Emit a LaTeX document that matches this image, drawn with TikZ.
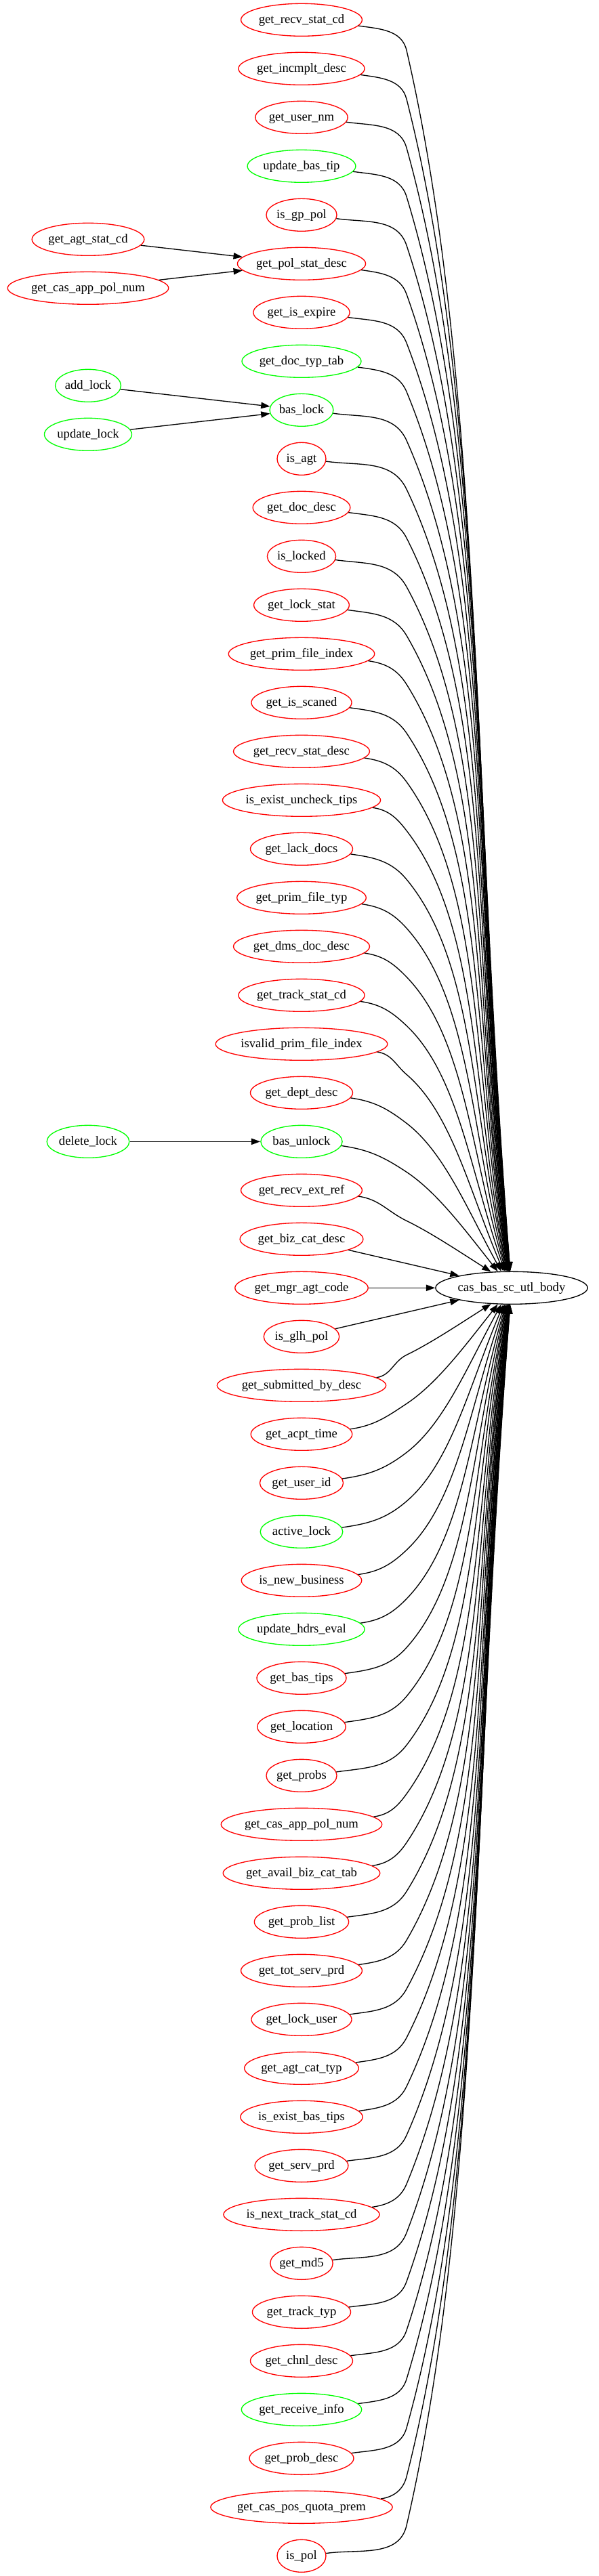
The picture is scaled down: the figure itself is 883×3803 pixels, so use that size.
\documentclass[tikz,border=0pt]{standalone}
\usepackage{fontspec}
\setmainfont{Liberation Serif}
\usetikzlibrary{arrows.meta,calc,shapes.geometric}

\newlength\lblw
\newcommand\nodefont{\fontsize{14pt}{16pt}\selectfont}
\newcommand\mknode[5]{%
  \settowidth\lblw{\nodefont #4}%
  \pgfmathsetlengthmacro\mw{max(54pt,1.29*\lblw+22pt)}%
  \node[fn,draw=#5,minimum width=\mw] (#1) at (#2,#3) {#4};}

\begin{document}
\begin{tikzpicture}[x=0.75pt,y=-0.75pt,
  fn/.style={ellipse,line width=1pt,minimum height=36pt,inner xsep=0pt,inner ysep=0pt,
    font=\nodefont,text height=10pt,text depth=2.6pt},
  edge/.style={line width=1pt,-{Triangle[length=10pt,width=7pt]}}]
\useasboundingbox (0,0) rectangle (883,3803);

% target
\mknode{T}{755}{1901.3}{cas\_bas\_sc\_utl\_body}{black}

% middle column
\foreach \lbl/\col [count=\i from 0] in {
get\_recv\_stat\_cd/red, get\_incmplt\_desc/red, get\_user\_nm/red, update\_bas\_tip/green,
is\_gp\_pol/red, get\_pol\_stat\_desc/red, get\_is\_expire/red, get\_doc\_typ\_tab/green,
bas\_lock/green, is\_agt/red, get\_doc\_desc/red, is\_locked/red, get\_lock\_stat/red,
get\_prim\_file\_index/red, get\_is\_scaned/red, get\_recv\_stat\_desc/red,
is\_exist\_uncheck\_tips/red, get\_lack\_docs/red, get\_prim\_file\_typ/red,
get\_dms\_doc\_desc/red, get\_track\_stat\_cd/red, isvalid\_prim\_file\_index/red,
get\_dept\_desc/red, bas\_unlock/green, get\_recv\_ext\_ref/red, get\_biz\_cat\_desc/red,
get\_mgr\_agt\_code/red, is\_glh\_pol/red, get\_submitted\_by\_desc/red, get\_acpt\_time/red,
get\_user\_id/red, active\_lock/green, is\_new\_business/red, update\_hdrs\_eval/green,
get\_bas\_tips/red, get\_location/red, get\_probs/red, get\_cas\_app\_pol\_num/red,
get\_avail\_biz\_cat\_tab/red, get\_prob\_list/red, get\_tot\_serv\_prd/red,
get\_lock\_user/red, get\_agt\_cat\_typ/red, is\_exist\_bas\_tips/red, get\_serv\_prd/red,
is\_next\_track\_stat\_cd/red, get\_md5/red, get\_track\_typ/red, get\_chnl\_desc/red,
get\_receive\_info/green, get\_prob\_desc/red, get\_cas\_pos\_quota\_prem/red, is\_pol/red}{
  \pgfmathsetmacro\yy{29.3+72*\i}
  \mknode{n\i}{445}{\yy}{\lbl}{\col}
}

% left column
\mknode{la}{130}{353.3}{get\_agt\_stat\_cd}{red}
\mknode{lb}{130}{425.3}{get\_cas\_app\_pol\_num}{red}
\mknode{lc}{130}{569.3}{add\_lock}{green}
\mknode{ld}{130}{641.3}{update\_lock}{green}
\mknode{le}{130}{1685.3}{delete\_lock}{green}

\draw[edge] (la) -- (n5);
\draw[edge] (lb) -- (n5);
\draw[edge] (lc) -- (n8);
\draw[edge] (ld) -- (n8);
\draw[edge] (le) -- (n23);

% edges to target
\foreach \i in {0,...,52}{
  \pgfmathtruncatemacro\dd{abs(\i-26)}
  \pgfmathtruncatemacro\sg{\i<26 ? 1 : -1}
  \ifnum\dd<2
    \draw[edge] (n\i) -- (T);
  \else
    \pgfmathsetmacro\ky{29.3+72*\i+45*\sg}
    \coordinate (K\i) at (600,\ky);
    \pgfmathsetmacro\ee{45/\dd}
    \pgfmathsetmacro\th{\sg*atan2(18*sqrt(1-(\ee/92)^2),-\ee)}
    \pgfmathsetmacro\sa{-6*\sg}
    \pgfmathsetmacro\ao{-8*\sg}
    \pgfmathsetmacro\gam{26+51*((\dd-2)/24)^0.6}
    \pgfmathsetmacro\ain{\sg*(180-\gam)}
    \pgfmathsetmacro\go{-\sg*\gam}
    \pgfmathsetmacro\ai{\sg*(90+115/\dd)}
    \draw[edge] (n\i.\sa) to[out=\ao,in=\ain] (K\i)
      let \p1=(K\i), \p2=(T.\th),
        \n1={veclen(\x2-\x1,\y2-\y1)}, \n2={0.27*\n1}, \n3={0.4*\n1} in
      .. controls ($(\p1)+(\go:\n2)$) and ($(\p2)+(\ai:\n3)$) .. (\p2);
  \fi
}
\end{tikzpicture}
\end{document}
